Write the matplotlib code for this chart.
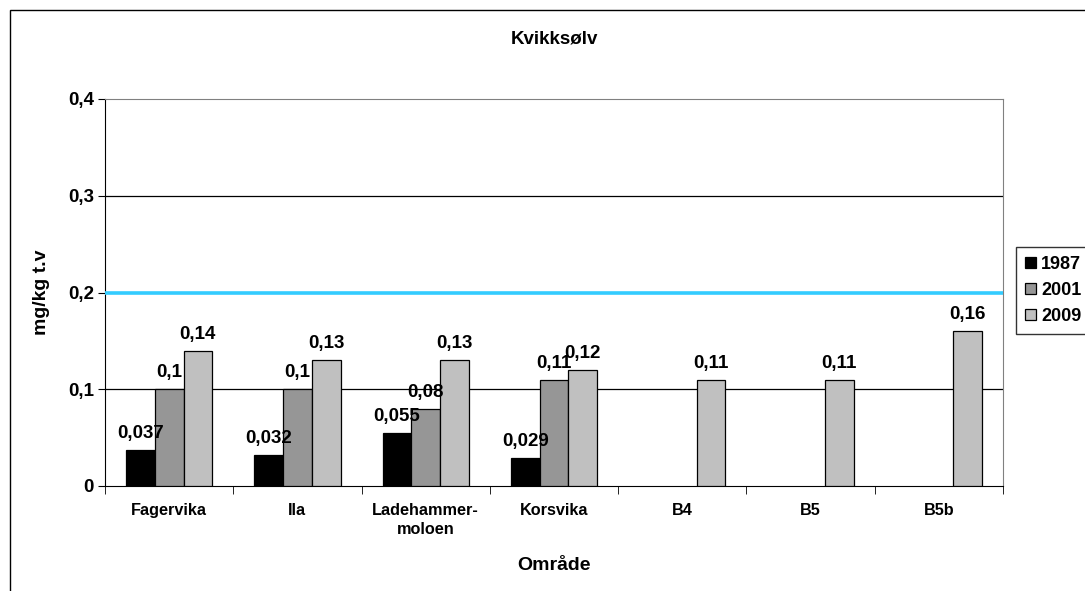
import numpy as np
import matplotlib
matplotlib.use("Agg")
import matplotlib.pyplot as plt
from matplotlib.patches import Rectangle

plt.rcParams['font.family'] = ['Liberation Sans', 'DejaVu Sans']
plt.rcParams['font.weight'] = 'bold'

categories = ["Fagervika", "Ila", "Ladehammer-\nmoloen", "Korsvika", "B4", "B5", "B5b"]
years = ["1987", "2001", "2009"]
v1987 = [0.037, 0.032, 0.055, 0.029, np.nan, np.nan, np.nan]
v2001 = [0.1, 0.1, 0.08, 0.11, np.nan, np.nan, np.nan]
v2009 = [0.14, 0.13, 0.13, 0.12, 0.11, 0.11, 0.16]
limit_value = 0.2
yticks = [0, 0.1, 0.2, 0.3, 0.4]
yticklabels = ["0", "0,1", "0,2", "0,3", "0,4"]

colors = ["#000000", "#969696", "#C0C0C0"]

W, H = 1085, 591
fig = plt.figure(figsize=(W / 100, H / 100), dpi=100)
ax = fig.add_axes([105 / W, 1 - 486 / H, (1003 - 105) / W, (486 - 99) / H])

# outer chart border (top and left edges visible)
fig.patches.append(Rectangle((10 / W, -0.1), 1.2, 1 - 10 / H + 0.1,
                             transform=fig.transFigure, fill=False,
                             edgecolor="#000000", linewidth=1.0))


def fmt(v):
    return f"{v:g}".replace(".", ",")


x = np.arange(len(categories))
w = 0.224
series = [v1987, v2001, v2009]
for i, (vals, c, yr) in enumerate(zip(series, colors, years)):
    pos = x + (i - 1) * w
    ax.bar(pos, vals, width=w, color=c, edgecolor="#000000",
           linewidth=0.9, label=yr, zorder=3)
    for p, v in zip(pos, vals):
        if not np.isnan(v):
            ax.annotate(fmt(v), (p, v), xytext=(0, 8.5),
                        textcoords="offset points", ha="center",
                        va="baseline", fontsize=13.5, fontweight="bold",
                        zorder=5)

ax.axhline(limit_value, color="#33CCFF", linewidth=2.6, zorder=4)

ax.set_xlim(-0.5, len(categories) - 0.5)
ax.set_ylim(0, 0.4)
ax.set_yticks(yticks)
ax.set_yticklabels(yticklabels, fontsize=13.5, fontweight="bold")
ax.set_xticks(x)
ax.set_xticklabels(categories, fontsize=11.7, fontweight="bold",
                   linespacing=1.4, va="top")
ax.tick_params(axis="x", length=0, pad=12)
ax.set_xticks(np.arange(-0.5, len(categories)), minor=True)
ax.tick_params(axis="x", which="minor", length=6, direction="out",
               color="#000000")
ax.tick_params(axis="y", length=5, direction="out", pad=3,
               color="#000000")

for yv in [0.1, 0.3]:
    ax.axhline(yv, color="#000000", linewidth=0.9, zorder=1)

ax.spines["top"].set_color("#808080")
ax.spines["right"].set_color("#808080")
ax.spines["left"].set_color("#000000")
ax.spines["bottom"].set_color("#000000")

fig.text(554 / W, 1 - 39 / H, "Kvikksølv", ha="center", va="center",
         fontsize=13.5, fontweight="bold")
fig.text(42 / W, 1 - 292 / H, "mg/kg t.v", ha="center", va="center",
         rotation=90, fontsize=14, fontweight="bold")
fig.text(554 / W, 1 - 566 / H, "Område", ha="center", va="center",
         fontsize=14, fontweight="bold")

leg = ax.legend(loc="upper left", bbox_to_anchor=(1016 / W, 1 - 247 / H),
                bbox_transform=fig.transFigure, fontsize=13, frameon=True,
                fancybox=False, edgecolor="#000000", handlelength=0.6,
                handleheight=0.6, handletextpad=0.3, borderpad=0.5,
                labelspacing=0.5, borderaxespad=0)
leg.get_frame().set_linewidth(1.0)

fig.savefig("out.png", dpi=100, facecolor="white")
